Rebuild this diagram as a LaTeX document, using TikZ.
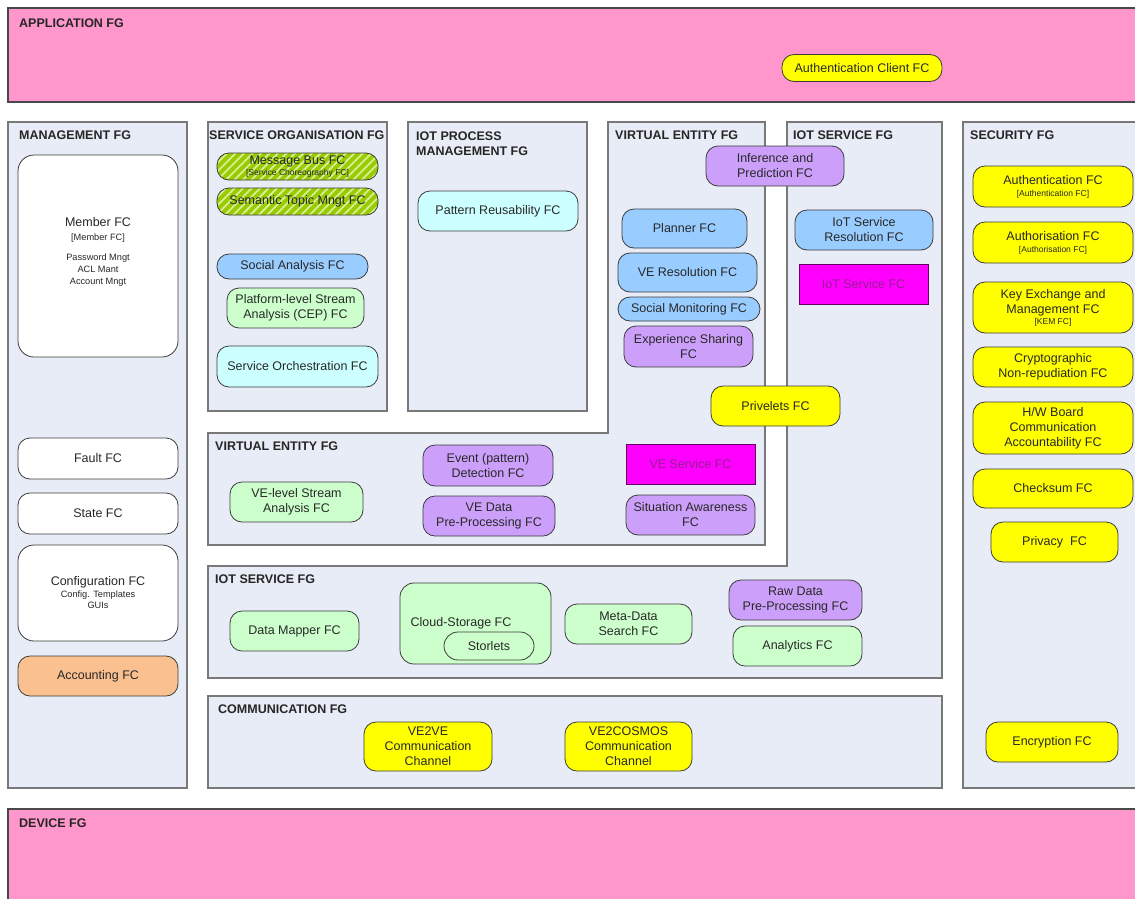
\documentclass[tikz,border=0pt]{standalone}
\usepackage{fontspec}
\setmainfont{Liberation Sans}
\usetikzlibrary{patterns.meta}

% palette
\definecolor{fgpink}{RGB}{255,150,204}
\definecolor{fgfill}{RGB}{231,236,246}
\definecolor{fgline}{RGB}{120,120,120}
\definecolor{fcline}{RGB}{60,60,60}
\definecolor{fctext}{RGB}{40,40,40}
\definecolor{fcyellow}{RGB}{255,255,0}
\definecolor{fcpurple}{RGB}{204,160,250}
\definecolor{fcblue}{RGB}{153,204,255}
\definecolor{fcgreen}{RGB}{204,255,204}
\definecolor{fccyan}{RGB}{204,255,255}
\definecolor{fcorange}{RGB}{250,192,144}
\definecolor{fcmagenta}{RGB}{255,0,255}
\definecolor{magtext}{RGB}{150,30,150}
\definecolor{magline}{RGB}{100,0,100}
\definecolor{hatchbase}{RGB}{153,204,0}
\definecolor{hatchline}{RGB}{215,240,150}

% fonts
\newcommand{\fcfont}{\fontsize{12.5}{15}\selectfont}
\newcommand{\fcsmall}{\fontsize{8.5}{10}\selectfont}
\newcommand{\fcsub}{\fontsize{9.2}{11}\selectfont}
\newcommand{\fghead}{\fontsize{12.5}{15}\selectfont\bfseries}

\tikzset{
  fgbox/.style={draw=fgline, line width=1.3pt, fill=fgfill},
  fgpinkbox/.style={draw=fgline!60!black, line width=1.3pt, fill=fgpink},
  fglabel/.style={anchor=base west, inner sep=0pt, font=\fghead, text=black!85},
  sz/.style 2 args={minimum width=#1pt, minimum height=#2pt},
  fc/.style={draw=fcline, line width=0.8pt, rounded corners=12pt, align=center,
             inner sep=0pt, text=fctext, font=\fcfont},
  yel/.style={fc, fill=fcyellow},
  pur/.style={fc, fill=fcpurple},
  blu/.style={fc, fill=fcblue},
  grn/.style={fc, fill=fcgreen},
  cyn/.style={fc, fill=fccyan},
  wht/.style={fc, fill=white},
  mag/.style={draw=magline, line width=0.8pt, fill=fcmagenta, align=center,
              inner sep=0pt, text=magtext, font=\fcfont},
  hatch/.style={fc, preaction={fill=hatchbase},
                pattern={Lines[angle=45,distance=6pt,line width=1.8pt]},
                pattern color=hatchline},
}

\begin{document}
\begin{tikzpicture}[x=1pt, y=-1pt]
\useasboundingbox (0,0) rectangle (1135,898);
\clip (0,0) rectangle (1135,898);
\fill[white] (0,0) rectangle (1135,898);

% functional groups
\draw[fgpinkbox] (8,8) rectangle (1145,102);
\draw[fgpinkbox] (8,809) rectangle (1145,910);
\draw[fgbox] (8,122) rectangle (187,788);
\draw[fgbox] (963,122) rectangle (1145,788);
\draw[fgbox] (208,122) rectangle (387,411);
\draw[fgbox] (408,122) rectangle (587,411);
\draw[fgbox] (787,122) -- (942,122) -- (942,678) -- (208,678) -- (208,566) -- (787,566) -- cycle;
\draw[fgbox] (608,122) -- (765,122) -- (765,545) -- (208,545) -- (208,433) -- (608,433) -- cycle;
\draw[fgbox] (208,696) rectangle (942,788);

% group titles
\node[fglabel] (tapp) at (19,27) {APPLICATION FG};
\node[fglabel] (tmgmt) at (19,139) {MANAGEMENT FG};
\node[fglabel] (tso) at (209,139) {SERVICE ORGANISATION FG};
\node[fglabel] (tiotp1) at (416,140) {IOT PROCESS};
\node[fglabel] (tiotp2) at (416,155) {MANAGEMENT FG};
\node[fglabel] (tve) at (615,139) {VIRTUAL ENTITY FG};
\node[fglabel] (tiots) at (793,139) {IOT SERVICE FG};
\node[fglabel] (tsec) at (970,139) {SECURITY FG};
\node[fglabel] (tve2) at (215,450) {VIRTUAL ENTITY FG};
\node[fglabel] (tiots2) at (215,583) {IOT SERVICE FG};
\node[fglabel] (tcomm) at (218,713) {COMMUNICATION FG};
\node[fglabel] (tdev) at (19,827) {DEVICE FG};

% application
\node[yel, sz={160}{27}] (authclient) at (862,68) {Authentication Client FC};

% management
\node[wht, sz={160}{202}, rounded corners=16pt] (member) at (98,256)
  {Member FC\\[-1pt]{\fcsub [Member FC]}\\[5pt]{\fcsub Password Mngt}\\[-3pt]{\fcsub ACL Mant}\\[-3pt]{\fcsub Account Mngt}\\[-4pt]{}};
\node[wht, sz={160}{41}] (fault) at (98,458.5) {Fault FC};
\node[wht, sz={160}{41}] (state) at (98,513.5) {State FC};
\node[wht, sz={160}{96}, rounded corners=16pt] (config) at (98,593)
  {Configuration FC\\[-3pt]{\fcsub Config. Templates}\\[-4pt]{\fcsub GUIs}};
\node[fc, fill=fcorange, sz={160}{40}] (accounting) at (98,676) {Accounting FC};

% service organisation
\node[hatch, sz={161}{27}] (msgbus) at (297.5,166.5)
  {Message Bus FC\\[-4pt]{\fcsmall [Service Choreography FC]}};
\node[hatch, sz={161}{27}] (semtopic) at (297.5,201.5) {Semantic Topic Mngt FC};
\node[blu, sz={151}{25}] (socanalysis) at (292.5,266.5) {Social Analysis FC};
\node[grn, sz={137}{40}] (cep) at (295.5,308) {Platform-level Stream\\Analysis (CEP) FC};
\node[cyn, sz={161}{41}] (orchestration) at (297.5,366.5) {Service Orchestration FC};

% iot process management
\node[cyn, sz={160}{40}] (pattern) at (498,211) {Pattern Reusability FC};

% virtual entity
\node[pur, sz={138}{40}] (inference) at (775,166) {Inference and\\Prediction FC};
\node[blu, sz={125}{39}] (planner) at (684.5,228.5) {Planner FC};
\node[blu, sz={139}{39}] (veres) at (687.5,272.5) {VE Resolution FC};
\node[blu, sz={142}{24}] (socmon) at (689,309) {Social Monitoring FC};
\node[pur, sz={129}{41}] (expshare) at (688.5,346.5) {Experience Sharing\\FC};
\node[pur, sz={130}{41}] (event) at (488,465.5) {Event (pattern)\\Detection FC};
\node[pur, sz={132}{40}] (vedata) at (489,516) {VE Data\\Pre-Processing FC};
\node[grn, sz={133}{40}] (vestream) at (296.5,502) {VE-level Stream\\Analysis FC};
\node[mag, sz={129}{40}] (veservice) at (690.5,464) {VE Service FC};
\node[pur, sz={129}{40}] (situation) at (690.5,515) {Situation Awareness\\FC};

% iot service
\node[blu, sz={138}{40}] (iotres) at (864,230) {IoT Service\\Resolution FC};
\node[mag, sz={129}{40}] (iotservice) at (863.5,284) {IoT Service FC};
\node[yel, sz={129}{40}] (privelets) at (775.5,406) {Privelets FC};
\node[grn, sz={129}{40}] (datamapper) at (294.5,631) {Data Mapper FC};
\node[grn, sz={151}{81}, rounded corners=14pt] (cloud) at (475.5,623.5) {};
\node[inner sep=0pt, font=\fcfont, text=fctext] (cloudlbl) at (461,623) {Cloud-Storage FC};
\node[grn, sz={90}{28}, rounded corners=14pt] (storlets) at (489,646) {Storlets};
\node[grn, sz={127}{40}] (metadata) at (628.5,624) {Meta-Data\\Search FC};
\node[pur, sz={133}{40}] (rawdata) at (795.5,600) {Raw Data\\Pre-Processing FC};
\node[grn, sz={129}{40}] (analytics) at (797.5,646) {Analytics FC};

% communication
\node[yel, sz={128}{49}] (ve2ve) at (428,746.5) {VE2VE\\Communication\\Channel};
\node[yel, sz={127}{49}] (ve2cosmos) at (628.5,746.5) {VE2COSMOS\\Communication\\Channel};

% security
\node[yel, sz={160}{41}] (authn) at (1053,186.5)
  {Authentication FC\\[-3pt]{\fcsmall [Authentication FC]}};
\node[yel, sz={160}{41}] (authz) at (1053,242.5)
  {Authorisation FC\\[-3pt]{\fcsmall [Authorisation FC]}};
\node[yel, sz={160}{51}] (kem) at (1053,307.5)
  {Key Exchange and\\Management FC\\[-4pt]{\fcsmall [KEM FC]}};
\node[yel, sz={160}{40}] (crypto) at (1053,367) {Cryptographic\\Non-repudiation FC};
\node[yel, sz={160}{52}] (hwboard) at (1053,428) {H/W Board\\Communication\\Accountability FC};
\node[yel, sz={160}{39}] (checksum) at (1053,488.5) {Checksum FC};
\node[yel, sz={127}{40}] (privacy) at (1054.5,542) {Privacy~ FC};
\node[yel, sz={132}{40}] (encryption) at (1052,742) {Encryption FC};
\end{tikzpicture}
\end{document}
